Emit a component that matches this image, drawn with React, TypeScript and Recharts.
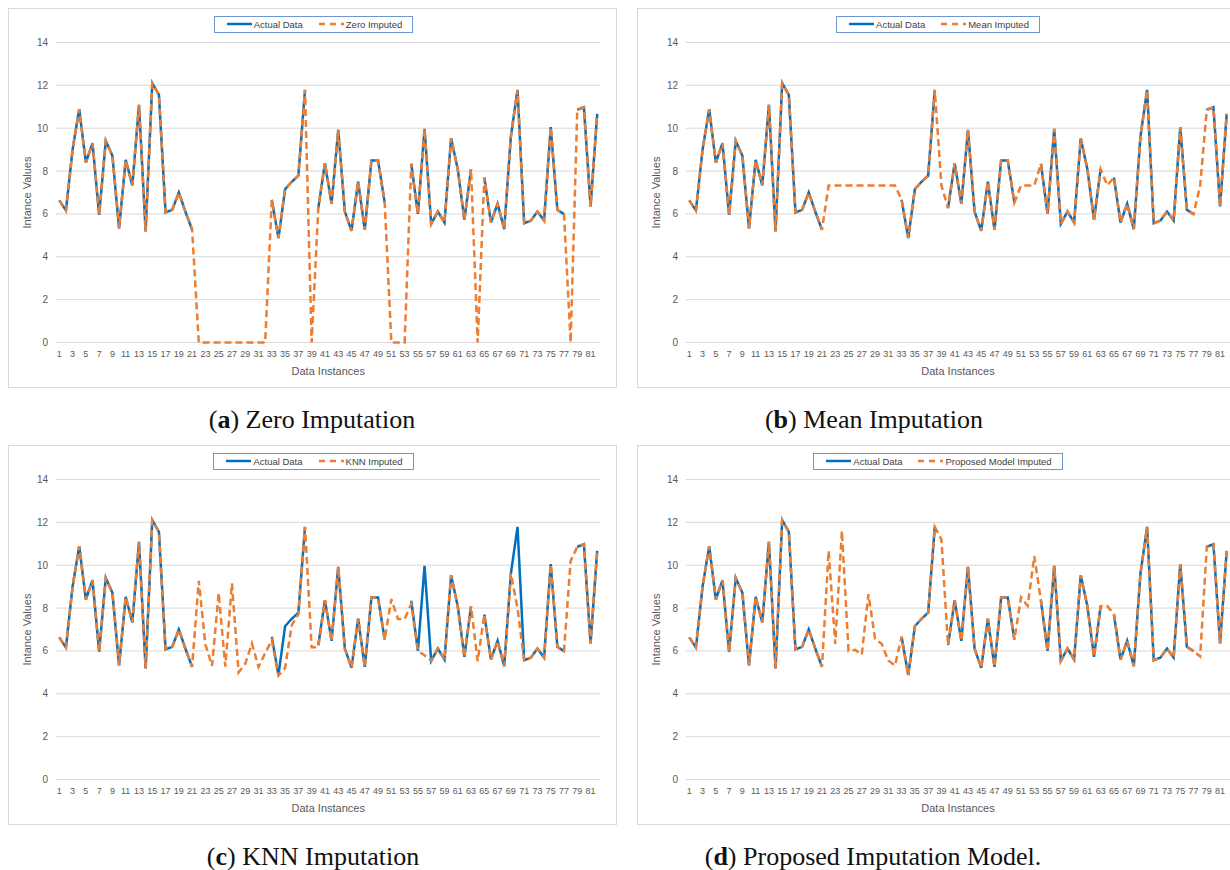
import React from "react";
import { LineChart, Line, XAxis, YAxis, CartesianGrid } from "recharts";

// data instances 1..82
const instances = Array.from({ length: 82 }, (_, i) => i + 1);

// actual readings, null where the value is missing
const actual = [
  6.63, 6.16, 9.0, 10.89, 8.4, 9.3, 5.96, 9.41, 8.71, 5.33, 8.52, 7.33, 11.09, 5.18, 12.1, 11.56, 6.07, 6.19, 7.0, 6.1, 5.26,
  null, null, null, null, null, null, null, null, null, null, null,
  6.66, 4.87, 7.15, 7.5, 7.79, 11.79,
  null,
  6.27, 8.37, 6.47, 9.92, 6.11, 5.21, 7.51, 5.26, 8.49, 8.49, 6.53,
  null, null, null,
  8.34, 6.0, 9.97, 5.54, 6.11, 5.6, 9.53, 8.09, 5.72, 8.09,
  null,
  7.7, 5.6, 6.47, 5.29, 9.61, 11.79, 5.57, 5.68, 6.11, 5.69, 10.05, 6.19, 5.99,
  null,
  10.86, 10.98, 6.35, 10.67,
];

// values put into the 17 gaps (instances 22-32, 39, 51-53, 64, 78)
const zeroGaps = [0, 0, 0, 0, 0, 0, 0, 0, 0, 0, 0, 0, 0, 0, 0, 0, 0];
const meanGaps = [7.33, 7.33, 7.33, 7.33, 7.33, 7.33, 7.33, 7.33, 7.33, 7.33, 7.33, 7.33, 7.33, 7.33, 7.33, 7.33, 7.33];
const knnGaps = [9.27, 6.3, 5.3, 8.7, 5.27, 9.15, 5.0, 5.4, 6.35, 5.25, 5.9, 6.17, 8.42, 7.49, 7.49, 5.52, 10.2];
const proposedGaps = [10.67, 6.33, 11.6, 6.0, 6.05, 5.83, 8.65, 6.56, 6.33, 5.55, 5.32, 11.2, 8.5, 8.1, 10.43, 8.1, 5.74];

// KNN output also moves some known points
const knnShiftInstances = [33, 34, 35, 36, 37, 40, 54, 56, 70];
const knnShiftValues = [6.5, 4.85, 5.2, 7.2, 7.72, 6.17, 8.19, 5.8, 8.0];

const yTicks = [0, 2, 4, 6, 8, 10, 12, 14];

const BLUE = "#0070c0";
const ORANGE = "#ed7d31";
const GRID = "#d9d9d9";
const TEXT = "#595959";
const FONT = "'Liberation Sans', Arial, sans-serif";

function buildRows(gaps: number[], shiftAt: number[] = [], shiftTo: number[] = []) {
  let g = 0;
  return instances.map((n, i) => {
    const a = actual[i];
    let imp: number;
    if (a === null) {
      imp = gaps[g];
      g++;
    } else {
      const k = shiftAt.indexOf(n);
      imp = k >= 0 ? shiftTo[k] : a;
    }
    return { instance: n, actual: a, imputed: imp };
  });
}

const panels = [
  { id: "a", legend: "Zero Imputed", rows: buildRows(zeroGaps), left: 8, top: 8, width: 609, yw: 48, mr: 16.5 },
  { id: "b", legend: "Mean Imputed", rows: buildRows(meanGaps), left: 637, top: 8, width: 600, yw: 49, mr: 7 },
  { id: "c", legend: "KNN Imputed", rows: buildRows(knnGaps, knnShiftInstances, knnShiftValues), left: 8, top: 445, width: 609, yw: 48, mr: 16.5 },
  { id: "d", legend: "Proposed Model Imputed", rows: buildRows(proposedGaps), left: 637, top: 445, width: 600, yw: 49, mr: 7 },
];

const CHART_H = 380;

function LegendBox({ label, width }: { label: string; width: number }) {
  return (
    <div style={{ position: "absolute", left: 0, top: 6.5, width, display: "flex", justifyContent: "center" }}>
      <div
        style={{
          display: "inline-flex",
          alignItems: "center",
          border: "1px solid #6f96d1",
          background: "#fff",
          height: 15,
          padding: "0 10px 0 12px",
          fontFamily: FONT,
          fontSize: 9.5,
          color: "#404040",
          gap: 2,
        }}
      >
        <svg width={25} height={4}>
          <line x1={0} y1={2} x2={25} y2={2} stroke={BLUE} strokeWidth={2.5} />
        </svg>
        <span style={{ marginRight: 14 }}>Actual Data</span>
        <svg width={25} height={4}>
          <line x1={0} y1={2} x2={25} y2={2} stroke={ORANGE} strokeWidth={2.5} strokeDasharray="6 5" />
        </svg>
        <span>{label}</span>
      </div>
    </div>
  );
}

function YTitle(props: any) {
  const vb = props.viewBox || { x: 0, y: 35, width: 48, height: 300 };
  const x = vb.x + 19;
  const y = vb.y + vb.height / 2;
  return (
    <text x={x} y={y} transform={`rotate(-90, ${x}, ${y})`} textAnchor="middle" dominantBaseline="central" fontFamily={FONT} fontSize={11} fill={TEXT}>
      Intance Values
    </text>
  );
}

function XTitle(props: any) {
  const vb = props.viewBox || { x: 48, y: 335, width: 545, height: 30 };
  return (
    <text x={vb.x + vb.width / 2} y={vb.y + 32} textAnchor="middle" fontFamily={FONT} fontSize={11} fill={TEXT}>
      Data Instances
    </text>
  );
}

function Panel({ p }: { p: (typeof panels)[number] }) {
  return (
    <div
      style={{
        position: "absolute",
        left: p.left,
        top: p.top,
        width: p.width,
        height: CHART_H,
        border: `1px solid ${GRID}`,
        boxSizing: "border-box",
        background: "#fff",
      }}
    >
      <div style={{ position: "absolute", left: -1, top: -1 }}>
        <LineChart width={p.width} height={CHART_H} data={p.rows} margin={{ top: 34.5, right: p.mr, bottom: 15.5, left: 0 }}>
          <CartesianGrid vertical={false} stroke={GRID} strokeWidth={1} />
          <XAxis
            dataKey="instance"
            interval={1}
            tickLine={false}
            axisLine={false}
            tick={{ fontSize: 9, fill: TEXT, fontFamily: FONT }}
            padding={{ left: 3.3, right: 3.3 }}
            height={30}
            label={<XTitle />}
          />
          <YAxis
            domain={[0, 14]}
            ticks={yTicks}
            width={p.yw}
            axisLine={false}
            tickLine={false}
            tick={{ fontSize: 10, fill: TEXT, fontFamily: FONT }}
            label={<YTitle />}
          />
          <Line
            type="linear"
            dataKey="actual"
            stroke={BLUE}
            strokeWidth={2.5}
            dot={false}
            activeDot={false}
            connectNulls={false}
            isAnimationActive={false}
          />
          <Line
            type="linear"
            dataKey="imputed"
            stroke={ORANGE}
            strokeWidth={2.5}
            strokeDasharray="7 4"
            dot={false}
            activeDot={false}
            isAnimationActive={false}
          />
        </LineChart>
      </div>
      <LegendBox label={p.legend} width={p.width} />
    </div>
  );
}

function Caption({ id, title, cx, cy }: { id: string; title: string; cx: number; cy: number }) {
  return (
    <div
      style={{
        position: "absolute",
        left: cx - 250,
        top: cy - 18,
        width: 500,
        height: 36,
        lineHeight: "36px",
        textAlign: "center",
        fontFamily: "'Liberation Serif', 'Times New Roman', serif",
        fontSize: 26,
        color: "#111",
        whiteSpace: "nowrap",
      }}
    >
      (<b>{id}</b>) {title}
    </div>
  );
}

export default function App() {
  return (
    <div style={{ position: "absolute", left: 0, top: 0, width: 1230, height: 870, overflow: "hidden", background: "#fff" }}>
      {panels.map((p) => (
        <Panel key={p.id} p={p} />
      ))}
      <Caption id="a" title="Zero Imputation" cx={312} cy={420} />
      <Caption id="b" title="Mean Imputation" cx={874} cy={420} />
      <Caption id="c" title="KNN Imputation" cx={313} cy={857} />
      <Caption id="d" title="Proposed Imputation Model." cx={873} cy={857} />
    </div>
  );
}
